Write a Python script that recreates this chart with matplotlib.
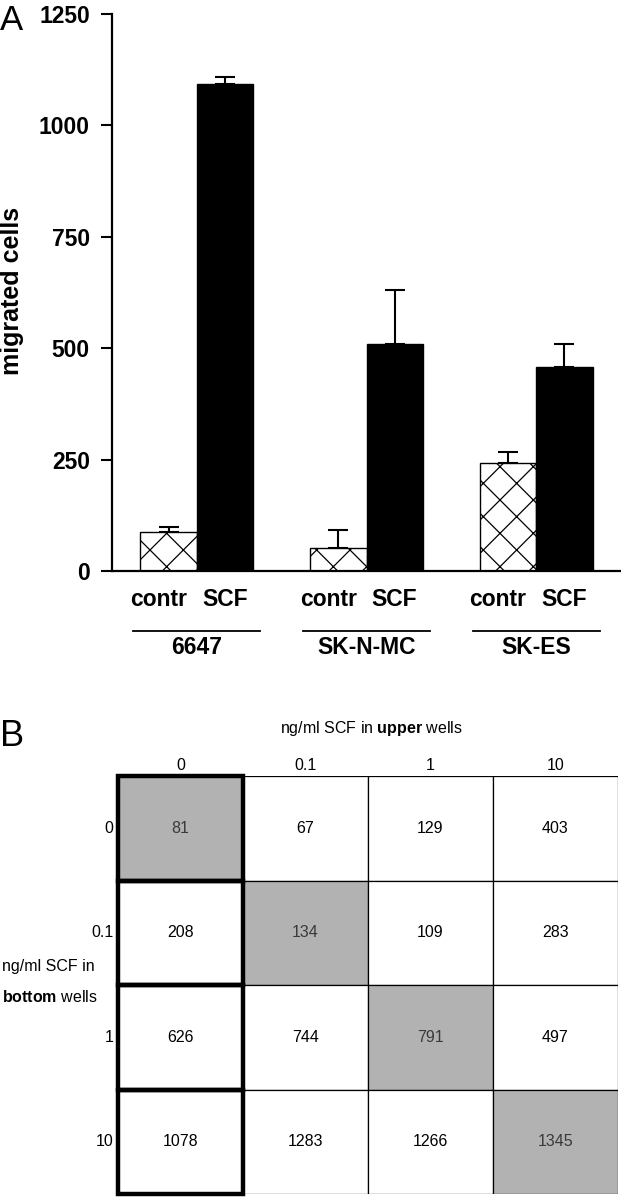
import matplotlib
matplotlib.use("Agg")
import matplotlib.pyplot as plt
from matplotlib.patches import Rectangle
import numpy as np

plt.rcParams['font.family'] = ['Liberation Sans', 'DejaVu Sans']
plt.rcParams['mathtext.fontset'] = 'custom'
plt.rcParams['mathtext.rm'] = 'Liberation Sans'
plt.rcParams['mathtext.bf'] = 'Liberation Sans:bold'
plt.rcParams['hatch.linewidth'] = 0.9

# panel A data
groups = ['6647', 'SK-N-MC', 'SK-ES']
contr = [87, 52, 242]
contr_err = [12, 40, 25]
scf = [1092, 509, 458]
scf_err = [16, 122, 51]
yticks = [0, 250, 500, 750, 1000, 1250]

# panel B data
upper = ['0', '0.1', '1', '10']
bottom = ['0', '0.1', '1', '10']
cells = [[81, 67, 129, 403],
         [208, 134, 109, 283],
         [626, 744, 791, 497],
         [1078, 1283, 1266, 1345]]

W, H = 621, 1199
fig = plt.figure(figsize=(W / 100, H / 100), dpi=100)

def box(x0, y0, x1, y1):
    return [x0 / W, 1 - y1 / H, (x1 - x0) / W, (y1 - y0) / H]

# ---- panel A ----
ax = fig.add_axes(box(112, 14, 621, 571))
centers = np.array([1.5, 4.5, 7.5])
ax.bar(centers - 0.5, contr, width=1.0, color='white', edgecolor='black',
       linewidth=1.0, hatch='x', zorder=2)
ax.bar(centers + 0.5, scf, width=1.0, color='black', edgecolor='black',
       linewidth=1.0, zorder=2)
ax.errorbar(centers - 0.5, contr, yerr=[np.zeros(3), contr_err], fmt='none',
            ecolor='black', elinewidth=1.5, capsize=7, capthick=1.5, zorder=1)
ax.errorbar(centers + 0.5, scf, yerr=[np.zeros(3), scf_err], fmt='none',
            ecolor='black', elinewidth=1.5, capsize=7, capthick=1.5, zorder=1)

ax.set_xlim(0, 9.0)
ax.set_ylim(0, 1250)
ax.set_yticks(yticks)
ax.set_yticklabels([str(t) for t in yticks], fontsize=16.5, fontweight='bold')
ax.tick_params(axis='y', length=8, width=1.5, pad=8)
ax.set_xticks([])
for s in ['top', 'right']:
    ax.spines[s].set_visible(False)
ax.spines['left'].set_linewidth(1.6)
ax.spines['bottom'].set_linewidth(1.6)

tr = ax.get_xaxis_transform()
for c, g in zip(centers, groups):
    ax.text(c - 0.17, -0.052, 'contr', transform=tr, ha='right', va='center',
            fontsize=16.5, fontweight='bold')
    ax.text(c + 0.09, -0.052, 'SCF', transform=tr, ha='left', va='center',
            fontsize=16.5, fontweight='bold')
    ax.plot([c - 1.12, c + 1.12], [-0.1077, -0.1077], transform=tr,
            color='black', lw=1.3, clip_on=False)
    ax.text(c, -0.138, g, transform=tr, ha='center', va='center',
            fontsize=16.5, fontweight='bold')

fig.text(12 / W, 1 - 291 / H, 'migrated cells', rotation=90, ha='center',
         va='center', fontsize=18, fontweight='bold')
fig.text(0 / W, 1 - 20 / H, 'A', ha='left', va='center', fontsize=25)

# ---- panel B ----
ax2 = fig.add_axes(box(118, 776, 618, 1194))
ax2.set_xlim(0, 4)
ax2.set_ylim(4, 0)
ax2.axis('off')
gray = '#b2b2b2'
for i in range(4):
    for j in range(4):
        fc = gray if i == j else 'white'
        ax2.add_patch(Rectangle((j, i), 1, 1, facecolor=fc, edgecolor='black',
                                linewidth=0.9, zorder=1))
        ax2.text(j + 0.5, i + 0.5, str(cells[i][j]), ha='center', va='center',
                 fontsize=11.5, color='#3a3a3a' if i == j else 'black', zorder=3)
for i in range(4):
    ax2.add_patch(Rectangle((0, i), 1, 1, facecolor='none', edgecolor='black',
                            linewidth=3.2, zorder=2, clip_on=False))
for j, lab in enumerate(upper):
    ax2.text(j + 0.5, -0.03, lab, ha='center', va='bottom', fontsize=11.5)
for i, lab in enumerate(bottom):
    ax2.text(-0.035, i + 0.5, lab, ha='right', va='center', fontsize=11.5)

fig.text(371 / W, 1 - 729 / H, r'ng/ml SCF in $\bf{upper}$ wells',
         ha='center', va='center', fontsize=11.5)
fig.text(2 / W, 1 - 966 / H, 'ng/ml SCF in', ha='left', va='center',
         fontsize=11.5)
fig.text(2 / W, 1 - 997 / H, r'$\bf{bottom}$ wells', ha='left', va='center',
         fontsize=11.5)
fig.text(0 / W, 1 - 736 / H, 'B', ha='left', va='center', fontsize=26)

fig.savefig('out.png', dpi=100)
